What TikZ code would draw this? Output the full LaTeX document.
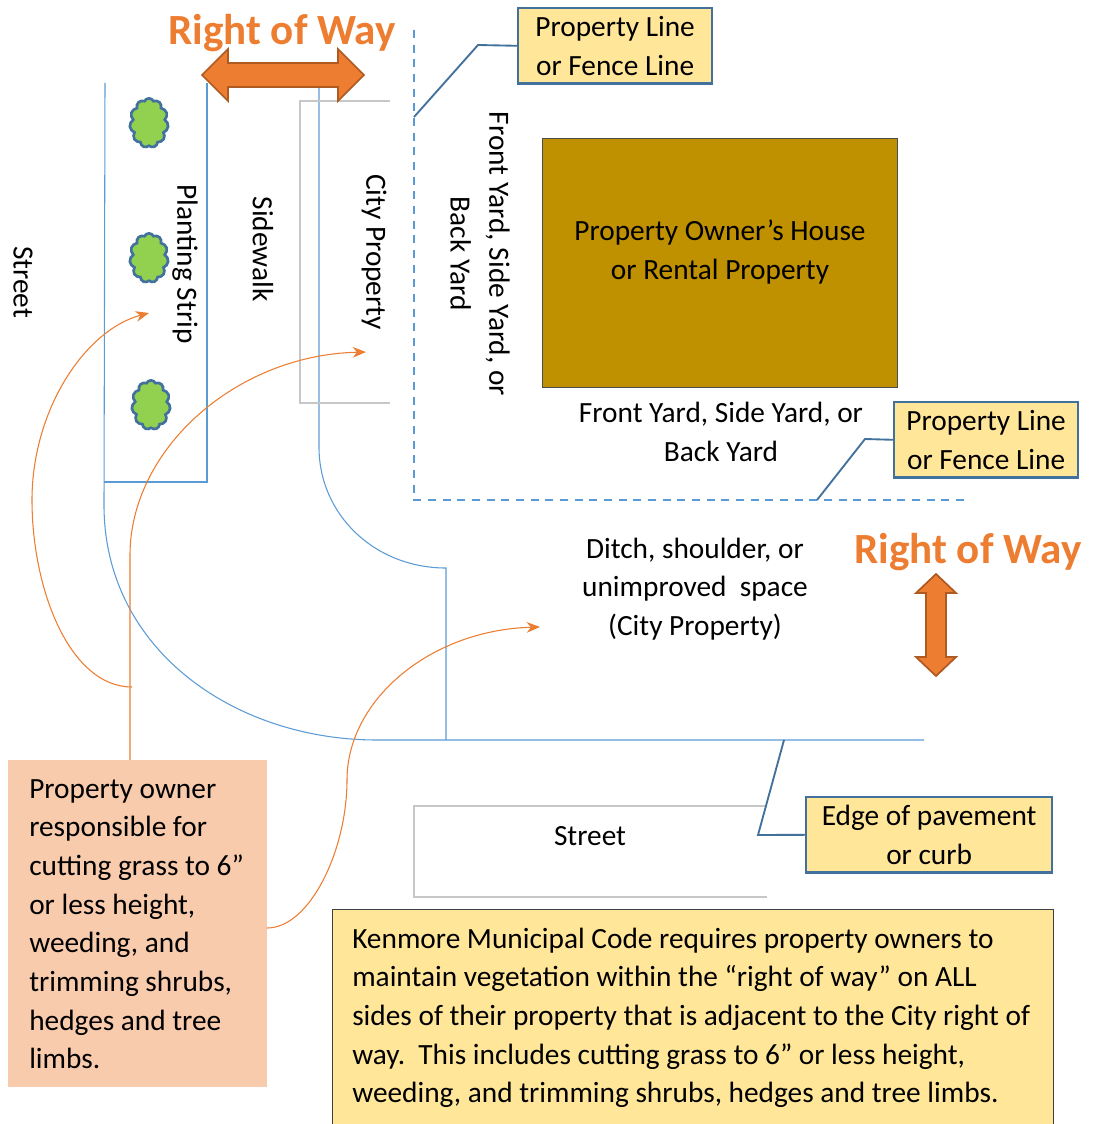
\documentclass[tikz,border=0pt]{standalone}
\usepackage{fontspec}
\setmainfont{Carlito}
\usepackage{xcolor}
\usetikzlibrary{shapes.symbols}
\usetikzlibrary{arrows.meta}
\definecolor{planblue}{HTML}{5B9BD5}
\definecolor{calloutblue}{HTML}{41719C}
\definecolor{calloutfill}{HTML}{FFE699}
\definecolor{wayorange}{HTML}{ED7D31}
\definecolor{waydark}{HTML}{AE5A21}
\definecolor{ownerfill}{HTML}{F8CBAD}
\definecolor{housefill}{HTML}{BF9000}
\definecolor{treefill}{HTML}{92D050}
\tikzset{
  planline/.style={draw=planblue,line width=0.8pt},
  greyline/.style={draw=black!22,line width=1pt},
  propline/.style={draw=planblue,line width=1.1pt,dash pattern=on 6pt off 5pt},
  leader/.style={draw=calloutblue,line width=1.4pt},
  careline/.style={draw=wayorange,line width=0.8pt},
  carearrow/.style={careline,-{Stealth[length=10pt,width=8pt]}},
  wayarrow/.style={fill=wayorange,draw=waydark,line width=1.3pt},
  waytext/.style={font=\fontsize{32.3}{36}\selectfont\bfseries,text=wayorange},
  label/.style={font=\fontsize{22}{29}\selectfont,align=center,inner sep=0pt},
  sidelabel/.style={label,rotate=-90},
  calloutbox/.style={label,draw=calloutblue,fill=calloutfill,line width=1.7pt,anchor=north west},
  tree/.style={cloud,cloud puffs=11,cloud puff arc=130,aspect=0.8,draw=calloutblue,fill=treefill,line width=2pt,
    minimum width=29pt,minimum height=37pt,inner sep=0pt}
}
\begin{document}
\begin{tikzpicture}[x=0.75pt,y=-0.75pt]
  \useasboundingbox (0,0) rectangle (1097,1124);
  % plan lines
  \draw[planline] (105,83) -- (104,505) .. controls (104,650) and (235,740) .. (377,740) -- (924,740);
  \draw[planline] (207,83) -- (207,482) -- (104,482);
  \draw[planline] (319,88) -- (319,447) .. controls (319,515) and (375,568) .. (446,568) -- (446,740);
  \draw[greyline] (390,101) -- (300,101) -- (300,403) -- (390,403);
  \draw[greyline] (767,806) -- (414,806) -- (414,897) -- (767,897);
  \draw[propline] (414,30) -- (414,500) -- (970,500);
  % trees
  \node[tree] (treeA) at (149,123) {};
  \node[tree] (treeB) at (149,258) {};
  \node[tree] (treeC) at (151,405) {};
  % house
  \node[label,draw=black!70,fill=housefill,line width=0.8pt,minimum width=266pt,minimum height=187pt,anchor=north west] (house) at (542,138) {};
  \node[label] (houselabel) at (720,252) {Property Owner’s House\\or Rental Property};
  % labels
  \node[sidelabel] (street) at (23,282) {Street};
  \node[sidelabel] (strip) at (185,264) {Planting Strip};
  \node[sidelabel] (sidewalk) at (263,249) {Sidewalk};
  \node[sidelabel] (cityprop) at (374,252) {City Property};
  \node[sidelabel] (yardA) at (480,254) {Front Yard, Side Yard, or\\Back Yard};
  \node[label] (yardB) at (721,432) {Front Yard, Side Yard, or\\Back Yard};
  \node[label] (ditch) at (695,589) {Ditch, shoulder, or\\unimproved\ \ space\\(City Property)};
  \node[label] (streetB) at (590,836) {Street};
  % right of way
  \node[waytext] (wayA) at (282,33) {Right of Way};
  \node[waytext] (wayB) at (968,552) {Right of Way};
  \draw[wayarrow] (202,75) -- (228,49) -- (228,63) -- (338,63) -- (338,49) -- (364,75) -- (338,101) -- (338,87) -- (228,87) -- (228,101) -- cycle;
  \draw[wayarrow] (936,574) -- (956,593) -- (946,593) -- (946,657) -- (956,657) -- (936,676) -- (916,657) -- (926,657) -- (926,593) -- (916,593) -- cycle;
  % callouts
  \node[calloutbox,minimum width=145.5pt,minimum height=56.5pt] (lineA) at (517,7) {Property Line\\or Fence Line};
  \node[calloutbox,minimum width=138pt,minimum height=56.5pt] (lineB) at (893,401) {Property Line\\or Fence Line};
  \node[calloutbox,minimum width=184.5pt,minimum height=56.5pt] (edge) at (805,796) {Edge of pavement\\or curb};
  \coordinate (lineAend) at (414,117);
  \coordinate (lineBend) at (817,500);
  \coordinate (edgeend) at (784,740);
  \draw[leader] (lineA.west) -- (478,45) -- (lineAend);
  \draw[leader] (lineB.west) -- (865,439) -- (lineBend);
  \draw[leader] (edge.west) -- (758,835) -- (edgeend);
  % owner box and note
  \node[label,fill=ownerfill,minimum width=194pt,minimum height=245pt,anchor=north west] (owner) at (8,760) {};
  \node[label,align=left,anchor=north west] (ownertext) at (29,779) {Property owner\\responsible for\\cutting grass to 6”\\or less height,\\weeding, and\\trimming shrubs,\\hedges and tree\\limbs.};
  \node[label,draw=black!75,fill=calloutfill,line width=0.8pt,minimum width=541pt,minimum height=166pt,anchor=north west] (note) at (332,909) {};
  \node[label,align=left,anchor=north west] (notetext) at (352,927.5) {Kenmore Municipal Code requires property owners to\\maintain vegetation within the “right of way” on ALL\\sides of their property that is adjacent to the City right of\\way.\ \ This includes cutting grass to 6” or less height,\\weeding, and trimming shrubs, hedges and tree limbs.};
  % care arrows
  \coordinate (stripend) at (149,313);
  \coordinate (cityend) at (366,352);
  \coordinate (ditchend) at (540,627);
  \coordinate (stripstart) at (132,687);
  \coordinate (citystart) at (130,760);
  \coordinate (ditchstart) at (267,928);
  \draw[carearrow] (stripstart) .. controls (70,687) and (32,590) .. (32,500) .. controls (32,410) and (85,330) .. (stripend);
  \draw[carearrow] (citystart) -- (130,555) .. controls (130,450) and (235,355) .. (cityend);
  \draw[carearrow] (ditchstart) .. controls (310,928) and (347,850) .. (347,780) .. controls (347,700) and (430,630) .. (ditchend);
\end{tikzpicture}
\end{document}
